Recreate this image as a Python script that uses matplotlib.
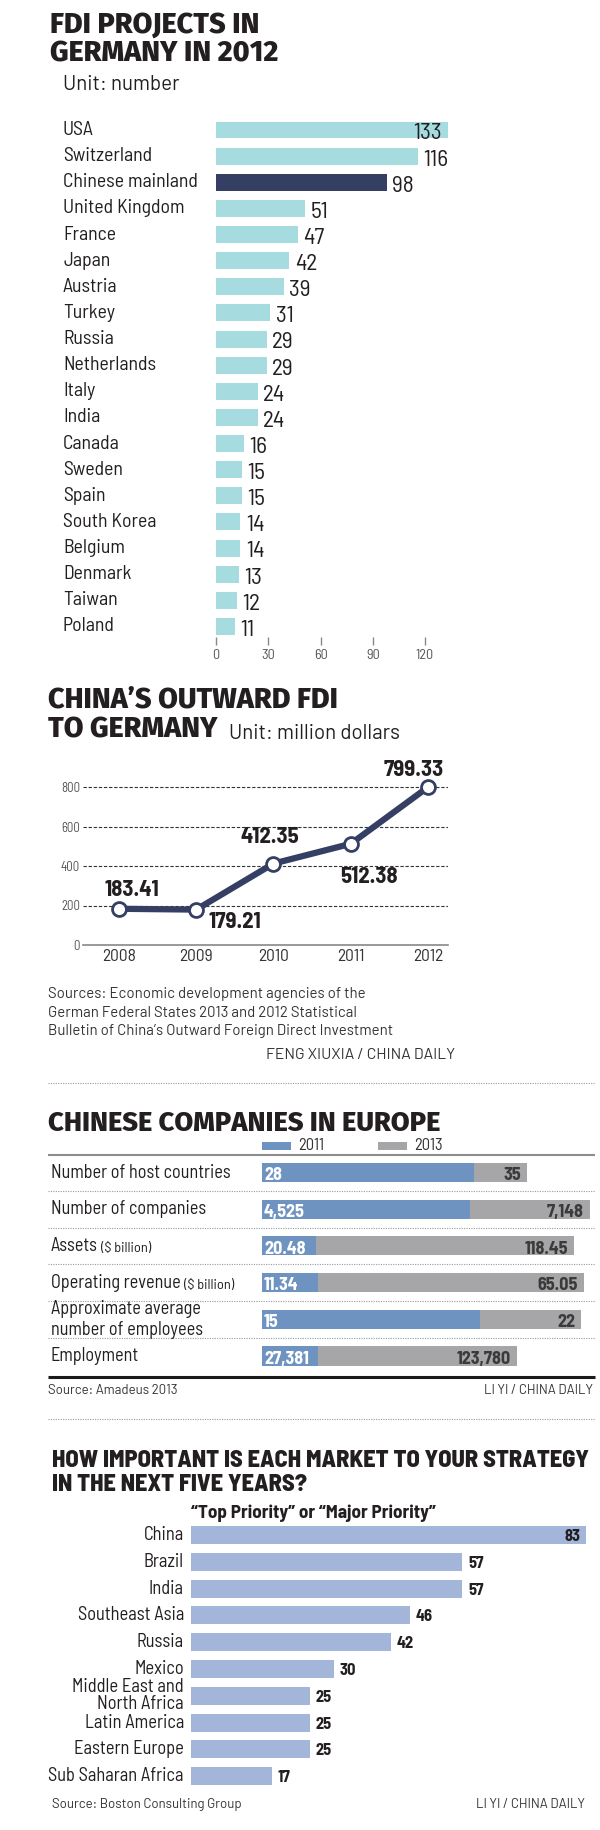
import matplotlib
matplotlib.use('Agg')
import matplotlib.pyplot as plt
import matplotlib.transforms as mtransforms
from matplotlib.font_manager import FontProperties
from matplotlib.textpath import TextToPath
from matplotlib.patches import Rectangle

W, H = 600, 1830

# FDI projects in Germany in 2012
countries = ['USA', 'Switzerland', 'Chinese mainland', 'United Kingdom', 'France', 'Japan',
             'Austria', 'Turkey', 'Russia', 'Netherlands', 'Italy', 'India', 'Canada',
             'Sweden', 'Spain', 'South Korea', 'Belgium', 'Denmark', 'Taiwan', 'Poland']
projects = [133, 116, 98, 51, 47, 42, 39, 31, 29, 29, 24, 24, 16, 15, 15, 14, 14, 13, 12, 11]
project_ticks = [0, 30, 60, 90, 120]

# China's outward FDI to Germany, million dollars
years = [2008, 2009, 2010, 2011, 2012]
fdi = [183.41, 179.21, 412.35, 512.38, 799.33]
fdi_ticks = [0, 200, 400, 600, 800]

# Chinese companies in Europe
metrics = ['Number of host countries', 'Number of companies', 'Assets', 'Operating revenue',
           'Approximate average\nnumber of employees', 'Employment']
metric_units = ['', '', '($ billion)', '($ billion)', '', '']
vals_2011 = [28, 4525, 20.48, 11.34, 15, 27381]
vals_2013 = [35, 7148, 118.45, 65.05, 22, 123780]
row_max = [43.3, 7150, 124.5, 66.3, 22.6, 159000]  # every row has its own scale

# market priority, share of "top" or "major" priority
markets = ['China', 'Brazil', 'India', 'Southeast Asia', 'Russia', 'Mexico',
           'Middle East and\nNorth Africa', 'Latin America', 'Eastern Europe', 'Sub Saharan Africa']
priority = [83, 57, 57, 46, 42, 30, 25, 25, 25, 17]

COND = ['Barlow Semi Condensed', 'Fira Sans Condensed', 'DejaVu Sans']
SANS = ['Barlow', 'Fira Sans', 'Liberation Sans']
HEAD = ['Fira Sans', 'Liberation Sans']

TXT = '#231f20'
CYAN = '#a6dce0'
NAVY = '#343f63'
BLUE3 = '#6e93c1'
GRAY3 = '#a6a6a8'
PERI = '#a3b6da'

_t2p = TextToPath()


def fit(s, family, weight, target_px):
    # font size (pt) that gives the string the width it has in the reference
    fp = FontProperties(family=family, weight=weight, size=10)
    w = _t2p.get_text_width_height_descent(s, fp, ismath=False)[0]
    return 10 * target_px / (w * 100 / 72)


fs_lab1 = fit('Chinese mainland', COND, 'normal', 135)
fs_val1 = fit('116', COND, 'normal', 25)
fs_tick1 = fit('120', COND, 'normal', 18)
fs_unit = fit('Unit: million dollars', SANS, 'normal', 171)
fs_years = fit('2008', COND, 'normal', 34)
fs_ytick = fit('800', COND, 'normal', 19)
fs_dlab = fit('799.33', COND, 'bold', 60)
fs_src = fit('Sources: Economic development agencies of the', SANS, 'normal', 317)
fs_feng = fit('FENG XIUXIA / CHINA DAILY', SANS, 'normal', 189)
fs_lab3 = fit('Number of host countries', COND, 'normal', 180)
fs_unit3 = fit('($ billion)', COND, 'normal', 50)
fs_val3 = fit('4,525', COND, 'bold', 41)
fs_leg = fit('2011', COND, 'normal', 26)
fs_small = fit('Source: Amadeus 2013', SANS, 'normal', 130)
fs_title4 = fit('HOW IMPORTANT IS EACH MARKET TO YOUR STRATEGY', COND, 'heavy', 537)
fs_sub4 = fit('“Top Priority” or “Major Priority”', COND, 'bold', 245)
fs_lab4 = fit('Sub Saharan Africa', COND, 'normal', 136)
fs_val4 = fit('57', COND, 'bold', 15.5)

fig = plt.figure(figsize=(W / 100, H / 100), dpi=100)
bg = fig.add_axes([0, 0, 1, 1])
bg.set_xlim(0, W)
bg.set_ylim(H, 0)
bg.axis('off')


def px_rect(x0, y0, x1, y1):
    return [x0 / W, 1 - y1 / H, (x1 - x0) / W, (y1 - y0) / H]


def txt(x, y, s, size, family=SANS, weight='normal', **kw):
    kw.setdefault('va', 'baseline')
    kw.setdefault('color', TXT)
    return bg.text(x, y, s, fontsize=size, family=family, fontweight=weight, **kw)


def rule(y, style, lw, color, x0=48, x1=595):
    bg.plot([x0, x1], [y, y], ls=style, lw=lw, color=color, solid_capstyle='butt')


def clean(ax):
    for sp in ax.spines.values():
        sp.set_visible(False)
    ax.set_facecolor('none')


# ---------- section 1 ----------
fs_t1 = fit('GERMANY IN 2012', HEAD, 'heavy', 229)
txt(50, 33, 'FDI PROJECTS IN', fs_t1, family=HEAD, weight='heavy')
txt(50, 62, 'GERMANY IN 2012', fs_t1, family=HEAD, weight='heavy')
txt(63, 90, 'Unit: number', fs_unit)

top1, step1 = 130, 26.13
n1 = len(countries)
ppu1 = 209 / 120
ax1 = fig.add_axes(px_rect(216, top1 - step1 / 2, 216 + ppu1 * 140, 645))
clean(ax1)
ax1.set_xlim(0, 140)
ax1.set_ylim(n1 - 1 + (645 - (top1 + (n1 - 1) * step1)) / step1, -0.5)
colors1 = [NAVY if c == 'Chinese mainland' else CYAN for c in countries]
ax1.barh(range(n1), projects, height=0.65, color=colors1)
ax1.set_yticks([])
ax1.set_xticks(project_ticks)
ax1.tick_params(axis='x', direction='in', length=6, width=1, color='#888',
                labelsize=fs_tick1, labelcolor='#555', pad=3)
for t in ax1.get_xticklabels():
    t.set_family(COND)
tr1 = mtransforms.blended_transform_factory(bg.transData, ax1.transData)
for i, (c, v) in enumerate(zip(countries, projects)):
    ax1.text(63, i, c, transform=tr1, ha='left', va='center', fontsize=fs_lab1,
             family=COND, color=TXT)
    inside = v == max(projects)
    ax1.annotate(str(v), (v, i), xytext=(-4 if inside else 4, -1), textcoords='offset points',
                 ha='right' if inside else 'left', va='center_baseline', fontsize=fs_val1,
                 family=COND, color=TXT)

# ---------- section 2 ----------
fs_t2 = fit('CHINA’S OUTWARD FDI', HEAD, 'heavy', 291)
txt(48, 707, 'CHINA’S OUTWARD FDI', fs_t2, family=HEAD, weight='heavy')
txt(48, 737, 'TO GERMANY', fs_t2, family=HEAD, weight='heavy')
txt(229, 739, 'Unit: million dollars', fs_unit)

step2 = 77.35
ax2 = fig.add_axes(px_rect(83, 770, 448, 945))
clean(ax2)
ax2.set_xlim(years[0] - (119 - 83) / step2, years[-1] + (448 - 428) / step2)
ax2.set_ylim(0, (945 - 770) / 0.1975)
for t in fdi_ticks[1:]:
    ax2.axhline(t, ls=(0, (3, 1.6)), lw=0.8, color='#333', zorder=1)
ax2.spines['bottom'].set_visible(True)
ax2.spines['bottom'].set_color('#888')
ax2.spines['bottom'].set_linewidth(1.2)
ax2.plot(years, fdi, color=NAVY, lw=4.5, marker='o', ms=10, mfc='white', mec=NAVY,
         mew=2, solid_joinstyle='round', zorder=3, clip_on=False)
ax2.set_xticks(years)
ax2.set_yticks(fdi_ticks)
ax2.tick_params(axis='x', length=0, pad=3, labelsize=fs_years, labelcolor='#333')
ax2.tick_params(axis='y', length=0, pad=2, labelsize=fs_ytick, labelcolor='#555')
for t in ax2.get_xticklabels() + ax2.get_yticklabels():
    t.set_family(COND)
fdi_label_offsets = [(13, -21), (39, 10), (-4, -29), (18, 31), (-14, -19)]
for yr, v, (dx, dy) in zip(years, fdi, fdi_label_offsets):
    ax2.annotate(f'{v:.2f}', (yr, v), xytext=(dx * 0.72, -dy * 0.72), textcoords='offset points',
                 ha='center', va='center_baseline', fontsize=fs_dlab, fontweight='bold',
                 family=COND, color=TXT)

txt(48, 998, 'Sources: Economic development agencies of the', fs_src, color='#333')
txt(48, 1017, 'German Federal States 2013 and 2012 Statistical', fs_src, color='#333')
txt(48, 1035, 'Bulletin of China’s Outward Foreign Direct Investment', fs_src, color='#333')
txt(266, 1059, 'FENG XIUXIA / CHINA DAILY', fs_feng, color='#333')
rule(1083, (0, (1, 1.2)), 0.8, '#999')

# ---------- section 3 ----------
fs_t3 = fit('CHINESE COMPANIES IN EUROPE', HEAD, 'heavy', 392)
txt(48, 1131, 'CHINESE COMPANIES IN EUROPE', fs_t3, family=HEAD, weight='heavy')
bg.add_patch(Rectangle((262, 1142), 29, 7.5, color=BLUE3, lw=0))
bg.add_patch(Rectangle((378, 1142), 29, 7.5, color=GRAY3, lw=0))
txt(298, 1146, '2011', fs_leg, family=COND, va='center', color='#333')
txt(414, 1146, '2013', fs_leg, family=COND, va='center', color='#333')
rule(1155, '-', 1.5, '#8c8c8c')

top3, step3 = 1172.5, 36.7
n3 = len(metrics)
ax3 = fig.add_axes(px_rect(262, top3 - step3 / 2, 590, top3 + (n3 - 0.5) * step3))
clean(ax3)
ax3.set_xlim(0, 1)
ax3.set_ylim(n3 - 0.5, -0.5)
ax3.set_xticks([])
ax3.set_yticks([])
share13 = [v / m for v, m in zip(vals_2013, row_max)]
share11 = [v / m for v, m in zip(vals_2011, row_max)]
ax3.barh(range(n3), share13, height=0.52, color=GRAY3)
ax3.barh(range(n3), share11, height=0.52, color=BLUE3)
tr3 = mtransforms.blended_transform_factory(bg.transData, ax3.transData)
for i in range(n3):
    lab = ax3.text(51, i, metrics[i], transform=tr3, ha='left', va='center', fontsize=fs_lab3,
                   family=COND, color=TXT, linespacing=1.2)
    if metric_units[i]:
        ax3.annotate(metric_units[i], xy=(1, 0), xycoords=lab, xytext=(2.5, 0),
                     textcoords='offset points', ha='left', va='bottom', fontsize=fs_unit3,
                     family=COND, color=TXT)
    ax3.annotate(f'{vals_2011[i]:,}', (0, i), xytext=(1.5, -1), textcoords='offset points',
                 ha='left', va='center_baseline', fontsize=fs_val3, fontweight='bold',
                 family=COND, color='white')
    ax3.annotate(f'{vals_2013[i]:,}', (share13[i], i), xytext=(-4.5, -1), textcoords='offset points',
                 ha='right', va='center_baseline', fontsize=fs_val3, fontweight='bold',
                 family=COND, color='#3a3a3a')
for i in range(n3 - 1):
    rule(top3 + (i + 0.5) * step3, (0, (1, 1.2)), 0.8, '#9a9a9a')
rule(1377, '-', 2.2, '#1a1a1a')
txt(48, 1394, 'Source: Amadeus 2013', fs_small, color='#333')
txt(593, 1394, 'LI YI / CHINA DAILY', fs_small, color='#333', ha='right')
rule(1419, (0, (1, 1.2)), 0.8, '#999')

# ---------- section 4 ----------
txt(52, 1467, 'HOW IMPORTANT IS EACH MARKET TO YOUR STRATEGY', fs_title4, family=COND, weight='heavy')
txt(52, 1491, 'IN THE NEXT FIVE YEARS?', fs_title4, family=COND, weight='heavy')
txt(191, 1518, '“Top Priority” or “Major Priority”', fs_sub4, family=COND, weight='bold')

top4, step4 = 1535, 26.8
n4 = len(markets)
ppu4 = 4.76
ax4 = fig.add_axes(px_rect(191, top4 - step4 / 2, 191 + ppu4 * 85, top4 + (n4 - 0.5) * step4))
clean(ax4)
ax4.set_xlim(0, 85)
ax4.set_ylim(n4 - 0.5, -0.5)
ax4.set_xticks([])
ax4.set_yticks([])
ax4.barh(range(n4), priority, height=0.67, color=PERI)
tr4 = mtransforms.blended_transform_factory(bg.transData, ax4.transData)
for i, (m, v) in enumerate(zip(markets, priority)):
    ax4.text(184, i, m, transform=tr4, ha='right', va='center', fontsize=fs_lab4,
             family=COND, color=TXT, linespacing=0.9, multialignment='right')
    inside = v == max(priority)
    ax4.annotate(str(v), (v, i), xytext=(-4 if inside else 4, 0), textcoords='offset points',
                 ha='right' if inside else 'left', va='center_baseline', fontsize=fs_val4,
                 fontweight='bold', family=COND, color=TXT)
txt(52, 1808, 'Source: Boston Consulting Group', fs_small, color='#333')
txt(585, 1808, 'LI YI / CHINA DAILY', fs_small, color='#333', ha='right')

fig.savefig('out.png', dpi=100, facecolor='white')
